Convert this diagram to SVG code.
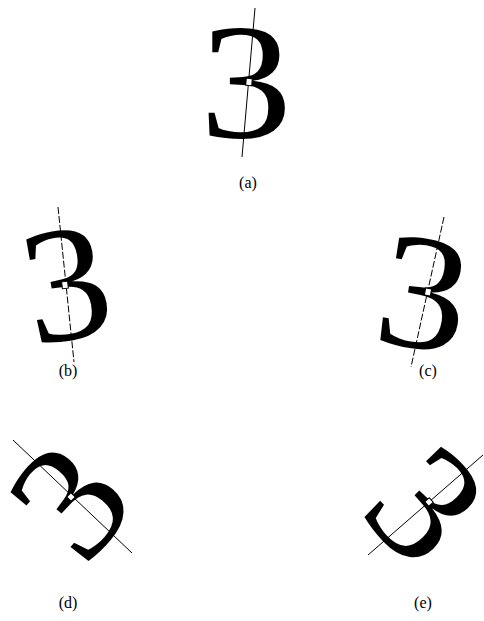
<svg xmlns="http://www.w3.org/2000/svg" width="484" height="621" viewBox="0 0 484 621">
<style>
.dig{font-family:"Liberation Serif","Times New Roman",serif;font-size:165px;text-anchor:middle;fill:#000}
.lbl{font-family:"Liberation Serif","Times New Roman",serif;font-size:16px;text-anchor:middle;fill:#000}
.ax{stroke:#000;stroke-width:1;fill:none}
.dash{stroke-dasharray:7 2}
.sq{fill:#fff;stroke:#000;stroke-width:1}
</style>
<rect width="484" height="621" fill="#fff"/>
<g id="a">
<text class="dig" transform="translate(246,81) scale(1.12,1)" x="0" y="56">3</text>
<line class="ax" x1="255" y1="8" x2="242" y2="157"/>
<rect class="sq" x="-3" y="-3.5" width="6" height="7" transform="translate(249,82) rotate(5)"/>
<text class="lbl" x="248" y="188">(a)</text>
</g>
<g id="b">
<text class="dig" transform="translate(66,283) rotate(-10) scale(1.05,1)" x="0" y="56">3</text>
<line class="ax dash" x1="58" y1="207" x2="74" y2="362"/>
<rect class="sq" x="-3" y="-3.5" width="6" height="7" transform="translate(65,285) rotate(-6)"/>
<text class="lbl" x="68" y="376">(b)</text>
</g>
<g id="c">
<text class="dig" transform="translate(424,292) rotate(9) scale(1.1,1)" x="0" y="56">3</text>
<line class="ax dash" x1="444" y1="217" x2="411" y2="367"/>
<rect class="sq" x="-3" y="-3.5" width="6" height="7" transform="translate(428,292) rotate(12)"/>
<text class="lbl" x="428" y="376">(c)</text>
</g>
<g id="d">
<text class="dig" transform="translate(69,500) rotate(-50) scale(1.05,1)" x="0" y="56">3</text>
<line class="ax" x1="13" y1="440" x2="132" y2="553"/>
<rect class="sq" x="-3" y="-3" width="6" height="6" transform="translate(71,497) rotate(-46)"/>
<text class="lbl" x="68" y="608">(d)</text>
</g>
<g id="e">
<text class="dig" transform="translate(427,504) rotate(46) scale(1.05,1)" x="0" y="56">3</text>
<line class="ax" x1="368" y1="555" x2="483" y2="455"/>
<rect class="sq" x="-3" y="-3" width="6" height="6" transform="translate(429,502) rotate(49)"/>
<text class="lbl" x="423" y="608">(e)</text>
</g>
</svg>
